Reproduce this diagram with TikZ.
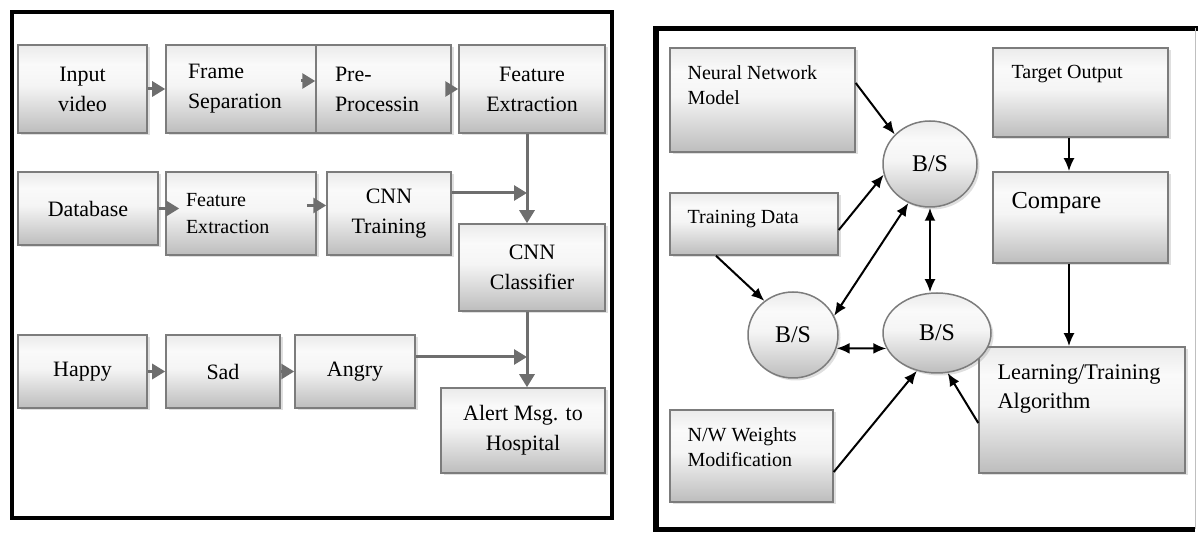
\documentclass[tikz,border=0pt]{standalone}
\usepackage{fontspec}
\setmainfont{Liberation Serif}
\usetikzlibrary{shapes.geometric, arrows.meta, calc, shadows}

\definecolor{linegray}{HTML}{6E6E6E}
\definecolor{edgegray}{HTML}{7C7C7C}
\pgfdeclareverticalshading{boxshade}{100bp}{color(0bp)=(gray!52); color(25bp)=(gray!52); color(52bp)=(gray!8); color(64bp)=(gray!4); color(75bp)=(gray!16); color(100bp)=(gray!16)}

\newcommand{\lpanelfont}{\fontsize{12.5}{17}\selectfont}
\newcommand{\lsmallfont}{\fontsize{11.4}{15.3}\selectfont}
\newcommand{\rpanelfont}{\fontsize{11.4}{14.2}\selectfont}
\newcommand{\cmpfont}{\fontsize{13.9}{16}\selectfont}
\newcommand{\bsfont}{\fontsize{13.6}{16}\selectfont}
\newcommand{\algfont}{\fontsize{12.7}{16.4}\selectfont}

\begin{document}
\begin{tikzpicture}[x=0.02cm, y=-0.02cm]

\newlength{\px}
\setlength{\px}{0.02cm}

\useasboundingbox (0,0) rectangle (1198,533);

% styles
\pgfkeys{/box/.style={draw=edgegray, line width=1.5\px, shading=boxshade, inner sep=0, drop shadow={shadow xshift=2.5\px, shadow yshift=-2.5\px, opacity=0.25}}} % shaded boxes
\pgfkeys{/lbox/.style={/box, align=center, font=\lpanelfont}} % centred text
\pgfkeys{/lboxl/.style={/box, align=left, font=\lpanelfont}} % left aligned text
\pgfkeys{/rbox/.style={/box}} % text placed separately
\pgfkeys{/rtext/.style={align=left, inner sep=0, anchor=north west, font=\rpanelfont}}
\pgfkeys{/bs/.style={/box, ellipse, font=\bsfont}} % B/S ellipses
\pgfkeys{/garrow/.style={draw=linegray, line width=3\px, -{Triangle[length=7.4pt, width=8.5pt]}}} % grey arrows
\pgfkeys{/karrow/.style={draw=black, line width=2\px, -{Latex[length=7.4pt, width=6.2pt]}}} % black arrows
\pgfkeys{/kboth/.style={/karrow, {Latex[length=7.4pt, width=6.2pt]}-{Latex[length=7.4pt, width=6.2pt]}}}

% frames
\draw[line width=4.5\px] (12,12) rectangle (612,518);
\draw[line width=5.5\px] (1198,28.5) -- (656,28.5) -- (656,529.5) -- (1195,529.5);
\draw[line width=1\px, gray!50] (1195,28.5) -- (1195,529.5);

% left panel, first row
\node[/lbox, minimum width=129\px, minimum height=88\px] (inp) at (82.5,89) {Input\\video};
\node[/lboxl, minimum width=150\px, minimum height=88\px, text width=106\px] (fs) at (241,89) {Frame\\Separation};
\node[/lboxl, minimum width=135\px, minimum height=88\px, text width=97\px] (pp) at (383.5,89) {Pre-\\Processin};
\node[/lbox, minimum width=146\px, minimum height=88\px] (fe1) at (532,89) {Feature\\Extraction};

% second row
\node[/lbox, minimum width=140\px, minimum height=73\px] (db) at (88,208.5) {Database};
\node[/lboxl, minimum width=150\px, minimum height=83\px, text width=110\px, font=\lsmallfont] (fe2) at (241,213.5) {Feature\\Extraction};
\node[/lbox, minimum width=124\px, minimum height=83\px] (cnnt) at (389,213.5) {CNN\\Training};
\node[/lbox, minimum width=146\px, minimum height=87\px] (cls) at (532,267.5) {CNN\\Classifier};

% emotions
\foreach \name/\x/\w/\txt in {hap/82.5/129/Happy, sad/223/114/Sad, ang/355/120/Angry} {
\node[/lbox, minimum width=\w\px, minimum height=73\px] (\name) at (\x,371.5) {\txt};
}
\node[/lbox, minimum width=164\px, minimum height=85\px] (alert) at (523,430.5) {Alert Msg. to\\Hospital};

% junctions on the right column
\coordinate (cj) at (527,193);
\coordinate (aj) at (527,357);

\draw[/garrow] (inp) -- (fs);
\draw[/garrow] ($(fs.east)+(-16,-8)$) -- ($(pp.west)+(0,-8)$);
\draw[/garrow] (pp) -- (fe1);
\draw[/garrow] (db.east) -- ($(db.east -| fe2.west)+(14,0)$);
\draw[/garrow] ($(fe2.east)+(-10,-8)$) -- ($(cnnt.west)+(0,-8)$);
\draw[/garrow] (cnnt.east |- cj) -- (cj);
\draw[/garrow] (fe1.south -| cj) -- (cls.north -| cj);
\draw[/garrow] (hap) -- (sad);
\draw[/garrow] (sad) -- (ang);
\draw[/garrow] (ang.east |- aj) -- (aj);
\draw[/garrow] (cls.south -| aj) -- (alert.north -| aj);

% right panel boxes
\node[/rbox, minimum width=185\px, minimum height=104\px] (nnm) at (762.5,100) {};
\node[/rtext] (nnmtxt) at ($(nnm.north west)+(18,18)$) {Neural Network\\Model};
\node[/rbox, minimum width=175\px, minimum height=89\px] (tgt) at (1080.5,92.5) {};
\node[/rtext] (tgttxt) at ($(tgt.north west)+(19,18)$) {Target Output};
\node[/rbox, minimum width=175\px, minimum height=91\px] (cmp) at (1080.5,217.5) {};
\node[/rtext, font=\cmpfont] (cmptxt) at ($(cmp.north west)+(19,21)$) {Compare};
\node[/rbox, minimum width=168\px, minimum height=62\px] (td) at (754,224) {};
\node[/rtext] (tdtxt) at ($(td.north west)+(18,18)$) {Training Data};
\node[/rbox, minimum width=206\px, minimum height=126\px] (lta) at (1082,410) {};
\node[/rtext, font=\algfont] (ltatxt) at ($(lta.north west)+(19,18)$) {Learning/Training\\Algorithm};
\node[/rbox, minimum width=163\px, minimum height=92\px] (nww) at (751.5,456) {};
\node[/rtext] (nwwtxt) at ($(nww.north west)+(18,18)$) {N/W Weights\\Modification};

% B/S nodes
\node[/bs, minimum width=94\px, minimum height=86\px] (bs1) at (930,164) {B/S};
\node[/bs, minimum width=90\px, minimum height=86\px] (bs2) at (793,335) {B/S};
\node[/bs, minimum width=108\px, minimum height=80\px] (bs3) at (937,333) {B/S};

\coordinate (colx) at (1069,0);

\draw[/karrow] ($(nnm.east)+(0,-17)$) -- (bs1.140);
\draw[/karrow] ($(td.east)+(0,6)$) -- (bs1.193);
\draw[/karrow] ($(td.south)+(-38,0)$) -- (bs2.130);
\draw[/kboth] (bs2.25) -- (bs1.241);
\draw[/kboth] (bs1.south) -- (bs1.south |- bs3.north);
\draw[/kboth] (bs2.-17) -- (bs3.197);
\draw[/karrow] (tgt.south -| colx) -- (cmp.north -| colx);
\draw[/karrow] (cmp.south -| colx) -- (lta.north -| colx);
\draw[/karrow] ($(lta.west)+(0,13)$) -- (bs3.-75);
\draw[/karrow] ($(nww.east)+(0,16)$) -- (bs3.-118);

\end{tikzpicture}
\end{document}
